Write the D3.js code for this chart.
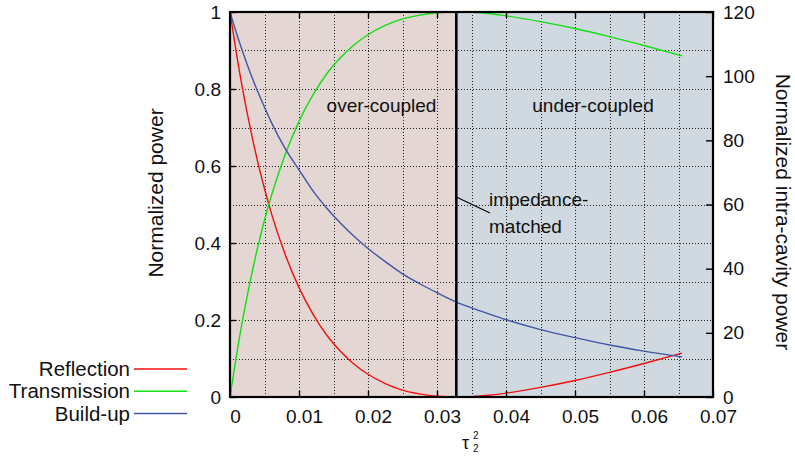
<!DOCTYPE html>
<html><head><meta charset="utf-8">
<script src="https://cdn.jsdelivr.net/npm/d3@7/dist/d3.min.js"></script>
<style>
html,body{margin:0;padding:0;background:#fff;}
svg{display:block;}
text{font-family:"Liberation Sans",Arial,Helvetica,sans-serif;fill:#111;}
</style></head>
<body>
<script>
// ---- data ----
const tau2 = [0,0.001,0.002,0.003,0.004,0.005,0.006,0.008,0.010,0.012,0.014,0.016,0.018,0.020,0.0225,0.025,0.0275,0.030,0.0328,0.035,0.0375,0.040,0.045,0.050,0.055,0.060,0.0655];
const reflection = [1,0.885,0.783,0.693,0.612,0.541,0.477,0.370,0.284,0.216,0.161,0.119,0.085,0.059,0.035,0.018,0.008,0.002,0,0.001,0.0045,0.010,0.025,0.043,0.064,0.087,0.114];
const transmission = [0,0.115,0.217,0.307,0.388,0.459,0.523,0.630,0.716,0.784,0.839,0.881,0.915,0.941,0.965,0.982,0.992,0.998,1,0.999,0.996,0.990,0.975,0.957,0.936,0.913,0.886];
const buildup = [120,113.0,106.6,100.7,95.3,90.3,85.6,77.4,70.8,64.3,58.9,54.2,50.0,46.3,42.2,38.4,35.3,32.5,29.6,27.8,25.9,24.1,21.0,18.5,16.2,14.3,12.5];
const matchedTau = 0.0328;
const xTicks = [0,0.01,0.02,0.03,0.04,0.05,0.06,0.07];
const xTickLabels = ["0","0.01","0.02","0.03","0.04","0.05","0.06","0.07"];
const yTicks = [0,0.2,0.4,0.6,0.8,1];
const yTickLabels = ["0","0.2","0.4","0.6","0.8","1"];
const y2Ticks = [0,20,40,60,80,100,120];
const y2TickLabels = ["0","20","40","60","80","100","120"];
const xGrid = [0.005,0.01,0.015,0.02,0.025,0.03,0.035,0.04,0.045,0.05,0.055,0.06,0.065];
const yGrid = [0.1,0.2,0.3,0.4,0.5,0.6,0.7,0.8,0.9];
const seriesNames = ["Reflection","Transmission","Build-up"];
const seriesColors = ["#f01010","#10e010","#4155a8"];

// ---- layout ----
const W = 795, H = 456;
const L = 230, R = 713, T = 12, B = 397;
const x = d3.scaleLinear().domain([0,0.07]).range([L,R]);
const y = d3.scaleLinear().domain([0,1]).range([B,T]);
const y2 = d3.scaleLinear().domain([0,120]).range([B,T]);

const svg = d3.select("body").append("svg").attr("width",W).attr("height",H);

// background regions
svg.append("rect").attr("x",x(0)).attr("y",T).attr("width",x(matchedTau)-x(0)).attr("height",B-T).attr("fill","#e3d6d3");
svg.append("rect").attr("x",x(matchedTau)).attr("y",T).attr("width",x(0.07)-x(matchedTau)).attr("height",B-T).attr("fill","#d0d9df");

// grid
const g = svg.append("g").attr("stroke","#222").attr("stroke-width",1).attr("stroke-dasharray","1,2");
g.selectAll(".vx").data(xGrid).join("line")
  .attr("x1",d=>Math.round(x(d))+0.5).attr("x2",d=>Math.round(x(d))+0.5).attr("y1",T).attr("y2",B);
g.selectAll(".hy").data(yGrid).join("line")
  .attr("y1",d=>Math.round(y(d))+0.5).attr("y2",d=>Math.round(y(d))+0.5).attr("x1",L).attr("x2",R);

// curves
const lineL = d3.line().x((d,i)=>x(tau2[i])).y(d=>y(d)).curve(d3.curveMonotoneX);
const lineR = d3.line().x((d,i)=>x(tau2[i])).y(d=>y2(d)).curve(d3.curveMonotoneX);
svg.append("path").attr("d",lineL(reflection)).attr("fill","none").attr("stroke",seriesColors[0]).attr("stroke-width",1.4);
svg.append("path").attr("d",lineL(transmission)).attr("fill","none").attr("stroke",seriesColors[1]).attr("stroke-width",1.4);
svg.append("path").attr("d",lineR(buildup)).attr("fill","none").attr("stroke",seriesColors[2]).attr("stroke-width",1.4);

// impedance matched line
svg.append("line").attr("x1",x(matchedTau)).attr("x2",x(matchedTau)).attr("y1",T).attr("y2",B).attr("stroke","#000").attr("stroke-width",2.6);

// axes
const axB = d3.axisBottom(x).tickValues(xTicks).tickSize(-6).tickPadding(13).tickFormat((d,i)=>xTickLabels[i]);
const axT = d3.axisTop(x).tickValues(xTicks).tickSize(-6).tickFormat("");
const axL = d3.axisLeft(y).tickValues(yTicks).tickSize(-6).tickPadding(9).tickFormat((d,i)=>yTickLabels[i]);
const axR = d3.axisRight(y2).tickValues(y2Ticks).tickSize(-7).tickPadding(10).tickFormat((d,i)=>y2TickLabels[i]);
function style(sel){
  sel.select(".domain").remove();
  sel.selectAll(".tick line").attr("stroke","#000").attr("stroke-width",1.4);
  sel.selectAll(".tick text").attr("font-size",19).attr("font-family","'Liberation Sans',Arial,sans-serif").attr("fill","#111");
}
svg.append("g").attr("transform",`translate(0,${B})`).call(axB).call(style).selectAll(".tick text").attr("dx",5);
svg.append("g").attr("transform",`translate(0,${T})`).call(axT).call(style);
svg.append("g").attr("transform",`translate(${L},0)`).call(axL).call(style);
svg.append("g").attr("transform",`translate(${R},0)`).call(axR).call(style);

// frame
svg.append("rect").attr("x",L).attr("y",T).attr("width",R-L).attr("height",B-T).attr("fill","none").attr("stroke","#000").attr("stroke-width",2.2);

// axis titles
svg.append("text").attr("transform","translate(163,193) rotate(-90)").attr("text-anchor","middle").attr("font-size",21).text("Normalized power");
svg.append("text").attr("transform","translate(776,212) rotate(90)").attr("text-anchor","middle").attr("font-size",21).text("Normalized intra-cavity power");
svg.append("text").attr("x",462).attr("y",449).attr("font-size",18).text("τ");
svg.append("text").attr("x",473).attr("y",439).attr("font-size",10).text("2");
svg.append("text").attr("x",473).attr("y",452).attr("font-size",10).text("2");

// region labels
const annFont = "'Open Sans','Noto Sans',sans-serif", annSize = 19;
svg.append("text").attr("x",381.5).attr("y",112).attr("text-anchor","middle").attr("font-family",annFont).attr("font-size",annSize).text("over-coupled");
svg.append("text").attr("x",593).attr("y",112).attr("text-anchor","middle").attr("font-family",annFont).attr("font-size",annSize).text("under-coupled");
svg.append("text").attr("x",489).attr("y",206).attr("font-family",annFont).attr("font-size",annSize).text("impedance-");
svg.append("text").attr("x",489).attr("y",233).attr("font-family",annFont).attr("font-size",annSize).text("matched");
svg.append("line").attr("x1",x(matchedTau)).attr("y1",197).attr("x2",490).attr("y2",213).attr("stroke","#000").attr("stroke-width",1.2);

// legend
const leg = svg.append("g");
seriesNames.forEach((n,i)=>{
  const yy = 369 + i*22.3;
  leg.append("text").attr("x",130).attr("y",yy+7).attr("text-anchor","end").attr("font-size",20.5).text(n);
  leg.append("line").attr("x1",134).attr("x2",187).attr("y1",yy).attr("y2",yy).attr("stroke",seriesColors[i]).attr("stroke-width",1.5);
});
</script>
</body></html>
